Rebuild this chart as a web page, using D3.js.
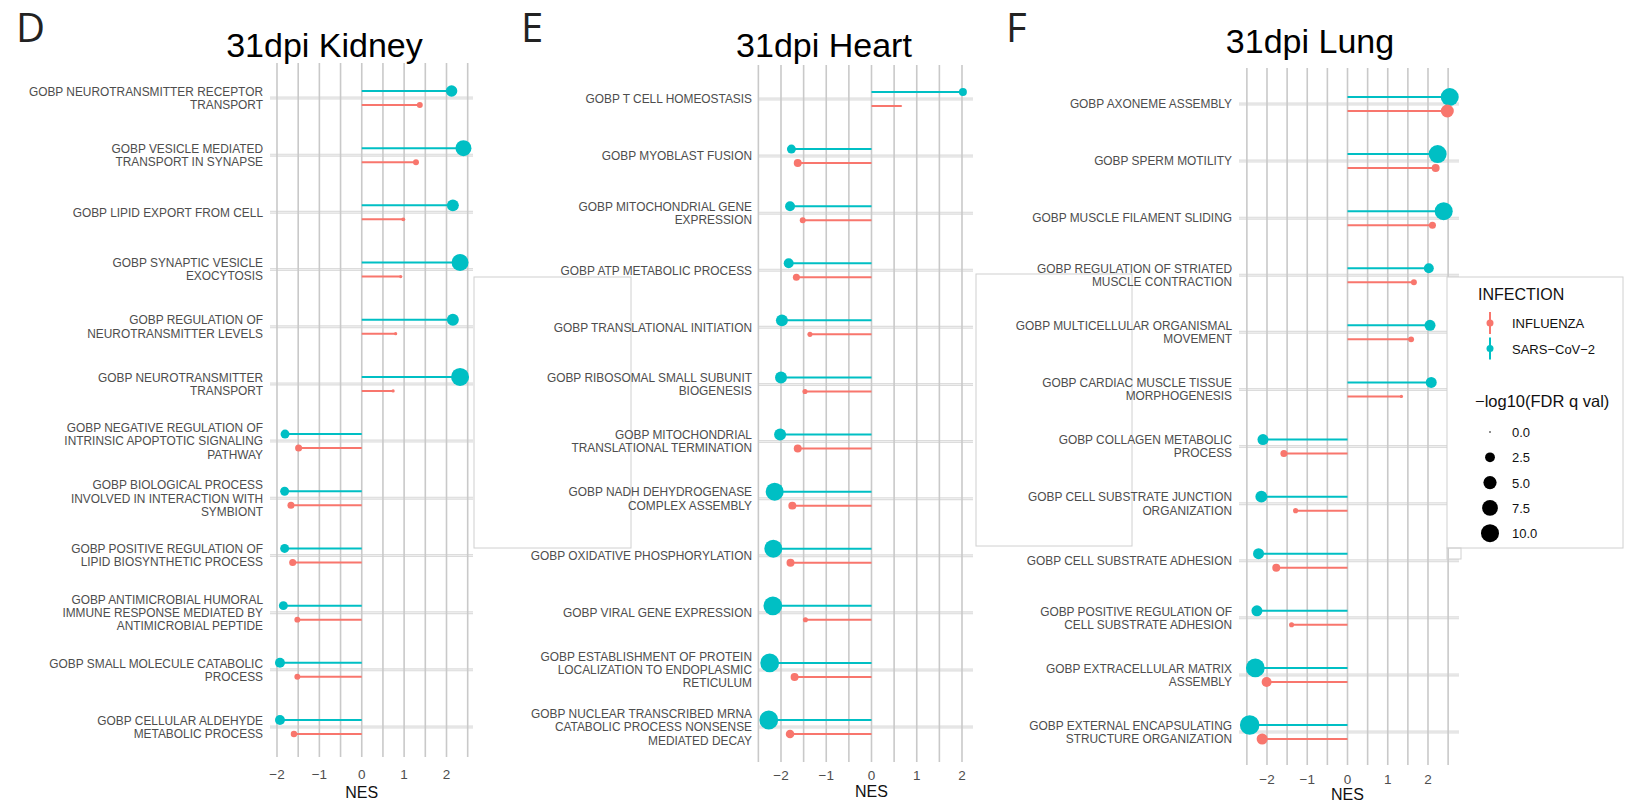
<!DOCTYPE html>
<html>
<head>
<meta charset="utf-8">
<script src="https://cdn.jsdelivr.net/npm/d3@7"></script>
<style>
  body { margin: 0; background: #fff; }
  text { font-family: "Liberation Sans", Arial, Helvetica, sans-serif; }
</style>
</head>
<body>
<svg id="chart" width="1628" height="803"></svg>
<script>
// ---- data (NES and -log10 FDR q) ----
const kidneyTerms = [
  "GOBP NEUROTRANSMITTER RECEPTOR\nTRANSPORT",
  "GOBP VESICLE MEDIATED\nTRANSPORT IN SYNAPSE",
  "GOBP LIPID EXPORT FROM CELL",
  "GOBP SYNAPTIC VESICLE\nEXOCYTOSIS",
  "GOBP REGULATION OF\nNEUROTRANSMITTER LEVELS",
  "GOBP NEUROTRANSMITTER\nTRANSPORT",
  "GOBP NEGATIVE REGULATION OF\nINTRINSIC APOPTOTIC SIGNALING\nPATHWAY",
  "GOBP BIOLOGICAL PROCESS\nINVOLVED IN INTERACTION WITH\nSYMBIONT",
  "GOBP POSITIVE REGULATION OF\nLIPID BIOSYNTHETIC PROCESS",
  "GOBP ANTIMICROBIAL HUMORAL\nIMMUNE RESPONSE MEDIATED BY\nANTIMICROBIAL PEPTIDE",
  "GOBP SMALL MOLECULE CATABOLIC\nPROCESS",
  "GOBP CELLULAR ALDEHYDE\nMETABOLIC PROCESS"
];
const kidneyCovNes = [2.12, 2.40, 2.15, 2.32, 2.15, 2.32, -1.81, -1.82, -1.82, -1.85, -1.93, -1.93];
const kidneyFluNes = [1.37, 1.28, 0.98, 0.92, 0.80, 0.74, -1.49, -1.67, -1.63, -1.52, -1.52, -1.60];
const kidneyCovSig = [3.6, 7.7, 4.0, 8.8, 4.0, 10.0, 2.0, 2.0, 2.0, 2.0, 2.6, 2.6];
const kidneyFluSig = [0.7, 0.7, 0.2, 0.1, 0.1, 0.1, 1.1, 1.1, 1.1, 0.7, 0.7, 0.85];

const heartTerms = [
  "GOBP T CELL HOMEOSTASIS",
  "GOBP MYOBLAST FUSION",
  "GOBP MITOCHONDRIAL GENE\nEXPRESSION",
  "GOBP ATP METABOLIC PROCESS",
  "GOBP TRANSLATIONAL INITIATION",
  "GOBP RIBOSOMAL SMALL SUBUNIT\nBIOGENESIS",
  "GOBP MITOCHONDRIAL\nTRANSLATIONAL TERMINATION",
  "GOBP NADH DEHYDROGENASE\nCOMPLEX ASSEMBLY",
  "GOBP OXIDATIVE PHOSPHORYLATION",
  "GOBP VIRAL GENE EXPRESSION",
  "GOBP ESTABLISHMENT OF PROTEIN\nLOCALIZATION TO ENDOPLASMIC\nRETICULUM",
  "GOBP NUCLEAR TRANSCRIBED MRNA\nCATABOLIC PROCESS NONSENSE\nMEDIATED DECAY"
];
const heartCovNes = [2.02, -1.77, -1.80, -1.83, -1.98, -2.00, -2.02, -2.14, -2.17, -2.18, -2.25, -2.27];
const heartFluNes = [0.66, -1.63, -1.52, -1.66, -1.36, -1.47, -1.63, -1.75, -1.79, -1.46, -1.70, -1.80];
const heartCovSig = [1.5, 2.0, 2.6, 2.6, 4.0, 4.0, 4.0, 10.0, 10.0, 11.0, 11.0, 11.0];
const heartFluSig = [0.0, 1.5, 0.7, 1.1, 0.45, 0.45, 1.5, 1.5, 1.5, 0.45, 1.5, 1.8];

const lungTerms = [
  "GOBP AXONEME ASSEMBLY",
  "GOBP SPERM MOTILITY",
  "GOBP MUSCLE FILAMENT SLIDING",
  "GOBP REGULATION OF STRIATED\nMUSCLE CONTRACTION",
  "GOBP MULTICELLULAR ORGANISMAL\nMOVEMENT",
  "GOBP CARDIAC MUSCLE TISSUE\nMORPHOGENESIS",
  "GOBP COLLAGEN METABOLIC\nPROCESS",
  "GOBP CELL SUBSTRATE JUNCTION\nORGANIZATION",
  "GOBP CELL SUBSTRATE ADHESION",
  "GOBP POSITIVE REGULATION OF\nCELL SUBSTRATE ADHESION",
  "GOBP EXTRACELLULAR MATRIX\nASSEMBLY",
  "GOBP EXTERNAL ENCAPSULATING\nSTRUCTURE ORGANIZATION"
];
const lungCovNes = [2.54, 2.24, 2.39, 2.02, 2.05, 2.08, -2.10, -2.14, -2.21, -2.25, -2.29, -2.43];
const lungFluNes = [2.48, 2.19, 2.11, 1.65, 1.58, 1.34, -1.58, -1.29, -1.77, -1.39, -2.01, -2.12];
const lungCovSig = [10.0, 10.0, 10.0, 2.6, 3.3, 3.3, 3.3, 4.0, 3.3, 3.3, 11.0, 12.0];
const lungFluSig = [4.8, 1.5, 1.1, 0.7, 0.7, 0.1, 1.1, 0.45, 1.5, 0.45, 2.6, 3.3];

const infections = ["INFLUENZA", "SARS\u2212CoV\u22122"];
const sizeBreaks = [0, 2.5, 5, 7.5, 10];
const xTicks = [-2, -1, 0, 1, 2];

// ---- layout ----
const colors = { flu: "#F8766D", cov: "#00BFC4" };
const rScale = d3.scaleSqrt().domain([0, 10]).range([0.8, 9]);

const panels = [
  { letter: "D", letterX: 16, title: "31dpi Kidney", titleX: 324.5, titleY: 57,
    terms: kidneyTerms, cov: kidneyCovNes, flu: kidneyFluNes, covSig: kidneyCovSig, fluSig: kidneyFluSig,
    left: 270, right: 473, top: 63, bottom: 757, xr: [277, 446.5], yr: [98, 727],
    labelX: 263, tickY: 779, nesY: 798 },
  { letter: "E", letterX: 521, title: "31dpi Heart", titleX: 824, titleY: 57,
    terms: heartTerms, cov: heartCovNes, flu: heartFluNes, covSig: heartCovSig, fluSig: heartFluSig,
    left: 758, right: 973, top: 65, bottom: 762, xr: [781, 962], yr: [99, 727],
    labelX: 752, tickY: 780, nesY: 797 },
  { letter: "F", letterX: 1006, title: "31dpi Lung", titleX: 1310, titleY: 53,
    terms: lungTerms, cov: lungCovNes, flu: lungFluNes, covSig: lungCovSig, fluSig: lungFluSig,
    left: 1239, right: 1459, top: 68, bottom: 765, xr: [1267, 1428], yr: [104, 732],
    labelX: 1232, tickY: 784, nesY: 799.5 }
];

const svg = d3.select("#chart");

// remnants of covered legend boxes
[[474, 277, 157, 271], [976, 274, 156, 272]].forEach(([x, y, w, h]) => {
  svg.append("rect").attr("x", x).attr("y", y).attr("width", w).attr("height", h)
    .attr("fill", "none").attr("stroke", "#d0d0d0").attr("stroke-width", 1);
});

panels.forEach((p) => {
  const g = svg.append("g");
  const x = d3.scaleLinear().domain([-2, 2]).range(p.xr);
  const y = d3.scalePoint().domain(p.terms).range(p.yr);
  const lo = x.invert(p.left), hi = x.invert(p.right);
  const grid = d3.range(Math.ceil(lo * 2) / 2, hi + 1e-9, 0.5).filter((v) => x(v) >= p.left - 0.5);

  // horizontal grid
  g.selectAll(".hg").data(p.terms).join("line")
    .attr("x1", p.left).attr("x2", p.right)
    .attr("y1", (d) => y(d)).attr("y2", (d) => y(d))
    .attr("stroke", "#dcdcdc").attr("stroke-width", 3);
  g.selectAll(".hg2").data(p.terms).join("line")
    .attr("x1", p.left).attr("x2", p.right)
    .attr("y1", (d) => y(d)).attr("y2", (d) => y(d))
    .attr("stroke", "#efefef").attr("stroke-width", 1);

  // vertical grid
  g.selectAll(".vg").data(grid).join("line")
    .attr("x1", (d) => x(d)).attr("x2", (d) => x(d))
    .attr("y1", p.top).attr("y2", p.bottom)
    .attr("stroke", "#c9c9c9").attr("stroke-width", 1.6);

  // lollipops
  const rows = [];
  p.terms.forEach((t, i) => {
    rows.push({ t, v: p.cov[i], s: p.covSig[i], c: colors.cov, off: -7 });
    rows.push({ t, v: p.flu[i], s: p.fluSig[i], c: colors.flu, off: 7 });
  });
  g.selectAll(".stem").data(rows).join("line")
    .attr("x1", x(0)).attr("x2", (d) => x(d.v))
    .attr("y1", (d) => y(d.t) + d.off).attr("y2", (d) => y(d.t) + d.off)
    .attr("stroke", (d) => d.c).attr("stroke-width", 2);
  g.selectAll(".dot").data(rows).join("circle")
    .attr("cx", (d) => x(d.v)).attr("cy", (d) => y(d.t) + d.off)
    .attr("r", (d) => rScale(d.s)).attr("fill", (d) => d.c);

  // category labels
  p.terms.forEach((t) => {
    const lines = t.split("\n");
    const txt = g.append("text").attr("x", p.labelX).attr("y", y(t))
      .attr("text-anchor", "end").attr("fill", "#4d4d4d").attr("font-size", 11.9);
    lines.forEach((ln, k) => {
      txt.append("tspan").attr("x", p.labelX)
        .attr("y", y(t) + (k - (lines.length - 1) / 2) * 13.2 + 4.3)
        .text(ln);
    });
  });

  // x tick labels
  g.selectAll(".tick").data(xTicks).join("text")
    .attr("x", (d) => x(d)).attr("y", p.tickY)
    .attr("text-anchor", "middle").attr("fill", "#4d4d4d").attr("font-size", 13.5)
    .text((d) => d3.format("")(d).replace("-", "\u2212"));
  g.append("text").attr("x", x(0)).attr("y", p.nesY)
    .attr("text-anchor", "middle").attr("fill", "#111").attr("font-size", 16)
    .text("NES");

  // titles
  g.append("text").attr("x", p.titleX).attr("y", p.titleY)
    .attr("text-anchor", "middle").attr("fill", "#000").attr("font-size", 34)
    .text(p.title);
  g.append("text").attr("x", p.letterX).attr("y", 42)
    .attr("fill", "#222").attr("font-size", 40)
    .style("font-family", "'Open Sans', 'DejaVu Sans', sans-serif")
    .text(p.letter);
});

// ---- legend ----
const lg = svg.append("g");
lg.append("rect").attr("x", 1447).attr("y", 277).attr("width", 176).attr("height", 271)
  .attr("fill", "#fff").attr("stroke", "#d0d0d0");
lg.append("rect").attr("x", 1447).attr("y", 548).attr("width", 14).attr("height", 11)
  .attr("fill", "none").attr("stroke", "#d0d0d0");
lg.append("text").attr("x", 1478).attr("y", 300).attr("font-size", 16).attr("fill", "#111")
  .text("INFECTION");
const legColor = d3.scaleOrdinal().domain(infections).range([colors.flu, colors.cov]);
infections.forEach((name, i) => {
  const cy = 323 + i * 25.5;
  lg.append("line").attr("x1", 1490).attr("x2", 1490).attr("y1", cy - 11).attr("y2", cy + 11)
    .attr("stroke", legColor(name)).attr("stroke-width", 2);
  lg.append("circle").attr("cx", 1490).attr("cy", cy).attr("r", 3.5).attr("fill", legColor(name));
  lg.append("text").attr("x", 1512).attr("y", cy + 5).attr("font-size", 13).attr("fill", "#111")
    .text(name);
});
lg.append("text").attr("x", 1475).attr("y", 407).attr("font-size", 16.5).attr("fill", "#111")
  .text("\u2212log10(FDR q val)");
sizeBreaks.forEach((v, i) => {
  const cy = 432 + i * 25.3;
  lg.append("circle").attr("cx", 1490).attr("cy", cy).attr("r", rScale(v)).attr("fill", "#000");
  lg.append("text").attr("x", 1512).attr("y", cy + 5).attr("font-size", 13).attr("fill", "#111")
    .text(d3.format(".1f")(v));
});
</script>
</body>
</html>
